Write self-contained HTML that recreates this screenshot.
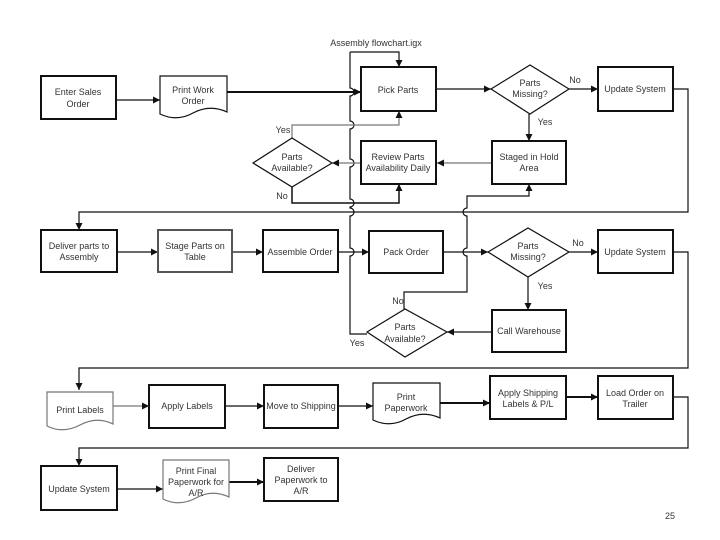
<!DOCTYPE html>
<html><head><meta charset="utf-8"><style>
html,body{margin:0;padding:0;background:#fff;width:720px;height:540px;overflow:hidden}
svg{display:block}
text{font-family:"Liberation Sans",sans-serif;font-size:9px;fill:#333;text-anchor:middle}
</style></head><body>
<svg width="720" height="540" viewBox="0 0 720 540" xmlns="http://www.w3.org/2000/svg">
<defs>
<marker id="a" markerWidth="8" markerHeight="8" refX="7" refY="4" orient="auto" markerUnits="userSpaceOnUse">
<path d="M0,0.5 L7,4 L0,7.5 Z" fill="#111"/></marker>
</defs>
<text x="376" y="46" font-size="8.5">Assembly flowchart.igx</text>

<g fill="none" stroke="#111" stroke-width="1.2">
<!-- main left vertical with hops -->
<path d="M350,52 V88 A4,4 0 0 1 350,96 V121 A4,4 0 0 1 350,129 V159 A4,4 0 0 1 350,167 V199 A4,4 0 0 1 350,207 V208 A4,4 0 0 1 350,216 V248 A4,4 0 0 1 350,256 V334 H367"/>
<path d="M350,52 H399 V67" marker-end="url(#a)"/>
<!-- right vertical with hops -->
<path d="M404,309 V292 H467 V256 A4,4 0 0 1 467,248 V216 A4,4 0 0 1 467,208 V196 H529 V184" marker-end="url(#a)"/>
<!-- row 1 -->
<path d="M116,100 H160" marker-end="url(#a)"/>
<path d="M227,92 H361" stroke-width="2" marker-end="url(#a)"/>
<path d="M436,89 H491" marker-end="url(#a)"/>
<path d="M569,89 H598" marker-end="url(#a)"/>
<path d="M529,114 V141" marker-end="url(#a)"/>
<path d="M492,163 H437" stroke="#777" marker-end="url(#a)"/>
<path d="M361,163 H332" stroke="#777" marker-end="url(#a)"/>
<path d="M292,138 V125 H399 V111" stroke="#777" marker-end="url(#a)"/>
<path d="M292,187 V203 H399 V184" stroke-width="1.5" marker-end="url(#a)"/>
<path d="M673,89 H688 V212 H79 V230" marker-end="url(#a)"/>
<!-- row 2 -->
<path d="M117,252 H158" marker-end="url(#a)"/>
<path d="M232,252 H263" marker-end="url(#a)"/>
<path d="M338,252 H369" marker-end="url(#a)"/>
<path d="M443,252 H488" marker-end="url(#a)"/>
<path d="M569,252 H598" marker-end="url(#a)"/>
<path d="M528,277 V310" marker-end="url(#a)"/>
<path d="M492,332 H447" marker-end="url(#a)"/>
<path d="M673,252 H688 V368 H79 V390" marker-end="url(#a)"/>
<!-- row 3 -->
<path d="M113,406 H149" stroke="#777" marker-end="url(#a)"/>
<path d="M225,406 H264" marker-end="url(#a)"/>
<path d="M338,406 H373" marker-end="url(#a)"/>
<path d="M440,403 H490" stroke-width="2" marker-end="url(#a)"/>
<path d="M566,397 H598" stroke-width="2" marker-end="url(#a)"/>
<path d="M673,397 H688 V448 H79 V466" marker-end="url(#a)"/>
<!-- row 4 -->
<path d="M117,489 H163" marker-end="url(#a)"/>
<path d="M229,482 H264" stroke-width="2" marker-end="url(#a)"/>
</g>

<!-- boxes -->
<g fill="#fff" stroke="#111" stroke-width="2">
<rect x="41" y="76" width="75" height="43"/>
<rect x="361" y="67" width="75" height="44"/>
<rect x="598" y="67" width="75" height="44"/>
<rect x="492" y="141" width="74" height="43"/>
<rect x="361" y="141" width="75" height="43"/>
<rect x="41" y="230" width="76" height="42"/>
<rect x="158" y="230" width="74" height="42" stroke="#555"/>
<rect x="263" y="230" width="75" height="42"/>
<rect x="369" y="231" width="74" height="42"/>
<rect x="598" y="230" width="75" height="43"/>
<rect x="492" y="310" width="74" height="42"/>
<rect x="149" y="385" width="76" height="43"/>
<rect x="264" y="385" width="74" height="43"/>
<rect x="490" y="376" width="76" height="43"/>
<rect x="598" y="376" width="75" height="43"/>
<rect x="41" y="466" width="76" height="44"/>
<rect x="264" y="458" width="74" height="43"/>
</g>
<g fill="#fff" stroke="#111" stroke-width="1.2">
<path d="M491,89 L530,65 L569,89 L530,114 Z"/>
<path d="M253,163 L292,138 L332,163 L292,187 Z"/>
<path d="M488,252 L528,228 L569,252 L528,277 Z"/>
<path d="M367,332 L405,309 L447,332 L405,357 Z"/>
<path d="M160,76 H227 V112 Q210,104 193,113 Q177,122 160,114 Z"/>
<path d="M47,392 H113 V424 Q97,416 80,425 Q63,434 47,426 Z" stroke="#777"/>
<path d="M373,383 H440 V418 Q423,410 406,419 Q390,428 373,420 Z"/>
<path d="M163,460 H229 V497 Q212,489 196,498 Q179,507 163,499 Z" stroke="#777"/>
</g>

<text x="78" y="95">Enter Sales</text><text x="78" y="107">Order</text>
<text x="193" y="93">Print Work</text><text x="193" y="104">Order</text>
<text x="398" y="93">Pick Parts</text>
<text x="530" y="86">Parts</text><text x="530" y="97">Missing?</text>
<text x="575" y="83">No</text>
<text x="635" y="92">Update System</text>
<text x="545" y="125">Yes</text>
<text x="529" y="160">Staged in Hold</text><text x="529" y="171">Area</text>
<text x="398" y="160" fill="#555">Review Parts</text><text x="398" y="171">Availability Daily</text>
<text x="292" y="160">Parts</text><text x="292" y="171">Available?</text>
<text x="283" y="133">Yes</text>
<text x="282" y="199">No</text>

<text x="79" y="249">Deliver parts to</text><text x="79" y="260">Assembly</text>
<text x="195" y="249">Stage Parts on</text><text x="195" y="260">Table</text>
<text x="300" y="255">Assemble Order</text>
<text x="406" y="255">Pack Order</text>
<text x="528" y="249">Parts</text><text x="528" y="260">Missing?</text>
<text x="578" y="246">No</text>
<text x="635" y="255">Update System</text>
<text x="545" y="289">Yes</text>
<text x="529" y="334">Call Warehouse</text>
<text x="405" y="330">Parts</text><text x="405" y="342">Available?</text>
<text x="398" y="304">No</text>
<text x="357" y="346">Yes</text>

<text x="80" y="413">Print Labels</text>
<text x="187" y="409">Apply Labels</text>
<text x="301" y="409">Move to Shipping</text>
<text x="406" y="400">Print</text><text x="406" y="411">Paperwork</text>
<text x="528" y="396">Apply Shipping</text><text x="528" y="407">Labels &amp; P/L</text>
<text x="635" y="396">Load Order on</text><text x="635" y="407">Trailer</text>

<text x="79" y="492">Update System</text>
<text x="196" y="474">Print Final</text><text x="196" y="485">Paperwork for</text><text x="196" y="496">A/R</text>
<text x="301" y="472">Deliver</text><text x="301" y="483">Paperwork to</text><text x="301" y="494">A/R</text>

<text x="670" y="519" font-size="12" fill="#888">25</text>
</svg>
</body></html>
